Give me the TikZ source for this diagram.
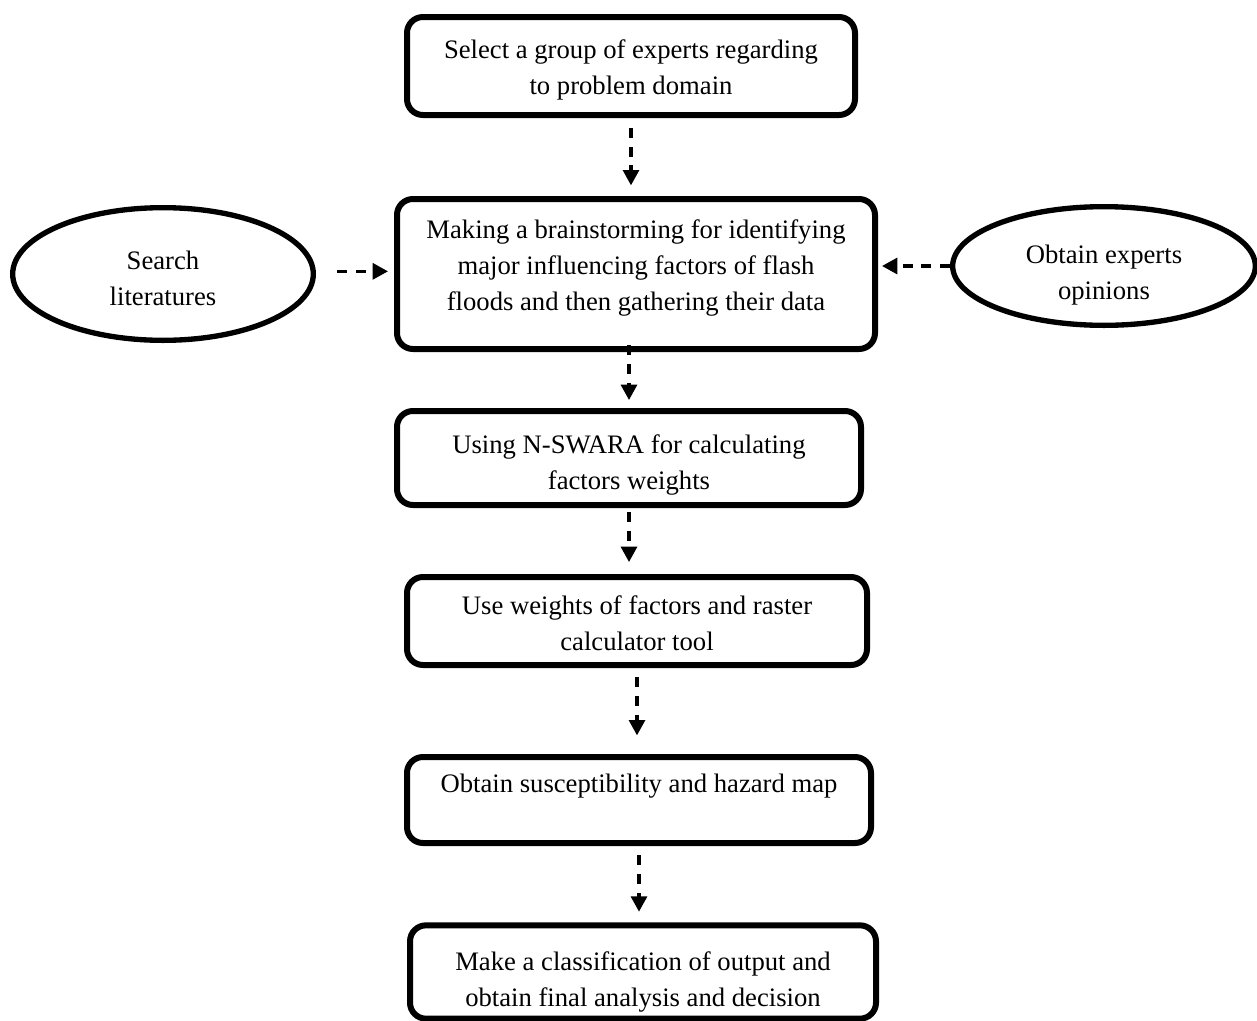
\documentclass[tikz,border=0pt]{standalone}
\usepackage{fontspec}
\setmainfont{Liberation Serif}
\usetikzlibrary{arrows.meta,shapes.geometric}
\tikzset{
  txt/.style={font=\fontsize{20pt}{27pt}\selectfont, align=center, inner sep=0pt},
  stepbox/.style={draw, line width=4.5pt, rounded corners=12pt, rectangle, inner sep=0pt},
  oval/.style={draw, line width=4pt, ellipse, inner sep=0pt},
  dar/.style={line width=2.3pt, dash pattern=on 7.5pt off 6.5pt, -{Triangle[length=11.5pt,width=12pt]}}
}
\begin{document}
\begin{tikzpicture}[x=0.75pt,y=-0.75pt]
\useasboundingbox (0,0) rectangle (1257,1021);
\node[stepbox, minimum width=336pt, minimum height=73.5pt,
  label={[txt,yshift=-3pt]center:{Select a group of experts regarding\\to problem domain}}] (b1) at (631,66) {};
\node[stepbox, minimum width=358.5pt, minimum height=112.5pt,
  label={[txt,yshift=4.5pt]center:{Making a brainstorming for identifying\\major influencing factors of flash\\floods and then gathering their data}}] (b2) at (636,274) {};
\node[stepbox, minimum width=348pt, minimum height=70.5pt,
  label={[txt,yshift=-5.25pt]center:{Using N-SWARA for calculating\\factors weights}}] (b3) at (629,458) {};
\node[stepbox, minimum width=345pt, minimum height=66pt,
  label={[txt,yshift=-1.5pt]center:{Use weights of factors and raster\\calculator tool}}] (b4) at (637,621) {};
\node[stepbox, minimum width=348pt, minimum height=64.5pt,
  label={[txt,yshift=10.5pt]center:{Obtain susceptibility and hazard map}}] (b5) at (639,800) {};
\node[stepbox, minimum width=349.5pt, minimum height=70pt,
  label={[txt,yshift=-7.5pt]center:{Make a classification of output and\\obtain final analysis and decision}}] (b6) at (643,972) {};
\node[oval, minimum width=225.5pt, minimum height=99.5pt,
  label={[txt,yshift=-3pt]center:{Search\\literatures}}] (el) at (163,274) {};
\node[oval, minimum width=227pt, minimum height=89pt,
  label={[txt,yshift=-7pt]center:{Obtain experts\\opinions}}] (er) at (1104,266) {};
\draw[dar, shorten <=7.5pt, shorten >=8pt] (b1.south) -- (b1.south |- b2.north);
\draw[dar, shorten <=-5pt, shorten >=6pt] (b3.north |- b2.south) -- (b3.north);
\draw[dar, shorten <=3pt, shorten >=9pt] (b3.south) -- (b3.south |- b4.north);
\draw[dar, shorten <=7pt, shorten >=14pt] (b4.south) -- (b4.south |- b5.north);
\draw[dar, shorten <=7pt, shorten >=8pt] (b5.south) -- (b5.south |- b6.north);
\draw[dar, shorten <=16pt, shorten >=4.5pt] ([yshift=2pt]el.east) -- ([yshift=2pt]el.east -| b2.west);
\draw[dar, shorten >=3pt] (er.west) -- (er.west -| b2.east);
\end{tikzpicture}
\end{document}
